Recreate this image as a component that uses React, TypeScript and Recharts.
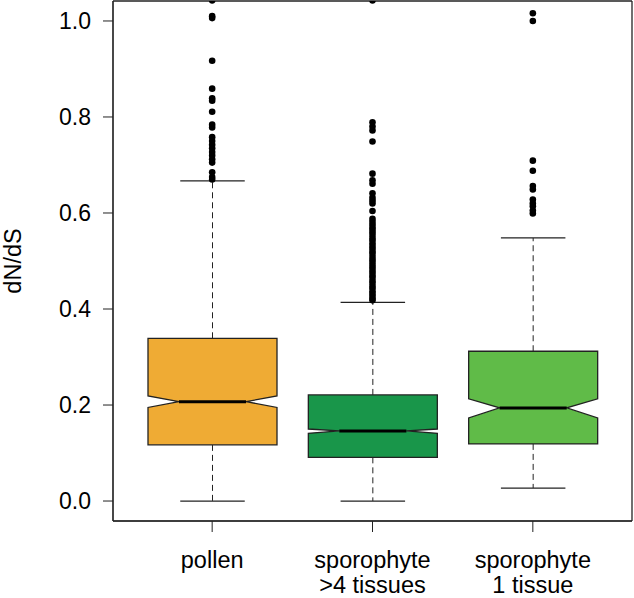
import React from "react";
import { ComposedChart, Bar, Scatter, XAxis, YAxis, CartesianGrid } from "recharts";

const categories = ["pollen", "sporophyte\n>4 tissues", "sporophyte\n1 tissue"];
const lowerWhisker = [0.0, 0.0, 0.027];
const q1 = [0.117, 0.091, 0.119];
const median = [0.207, 0.146, 0.194];
const q3 = [0.339, 0.221, 0.312];
const upperWhisker = [0.667, 0.414, 0.548];
const notchLow = [0.195, 0.141, 0.173];
const notchHigh = [0.219, 0.15, 0.213];

const pollenOutliers = [
    1.043, 1.01, 1.006, 0.917, 0.859, 0.839, 0.834, 0.811, 0.784, 0.778, 0.758, 0.75,
    0.742, 0.735, 0.727, 0.72, 0.712, 0.705, 0.685, 0.675, 0.67,
];
const manyTissueOutliers = [
    1.043, 0.789, 0.78, 0.772, 0.749, 0.682, 0.668, 0.661, 0.641, 0.632, 0.626, 0.62,
    0.604, 0.588, 0.582, 0.576, 0.57, 0.565, 0.56, 0.554, 0.548, 0.543, 0.537, 0.531,
    0.526, 0.52, 0.515, 0.509, 0.503, 0.498, 0.492, 0.487, 0.481, 0.476, 0.47, 0.465,
    0.459, 0.454, 0.448, 0.443, 0.437, 0.432, 0.427, 0.422, 0.418,
];
const oneTissueOutliers = [
    1.016, 1.0, 0.709, 0.688, 0.656, 0.649, 0.628, 0.62, 0.614, 0.605, 0.599,
];

const yTicks = [0, 0.2, 0.4, 0.6, 0.8, 1.0];
const yDomain = [-0.0416, 1.0416];
const boxColors = ["#efab34", "#19964a", "#60bb48"];

const boxData = categories.map((name, i) => ({
    name,
    lw: lowerWhisker[i],
    q1: q1[i],
    med: median[i],
    q3: q3[i],
    uw: upperWhisker[i],
    nlo: notchLow[i],
    nhi: notchHigh[i],
}));

const outlierData = [pollenOutliers, manyTissueOutliers, oneTissueOutliers].flatMap((vals, i) =>
    vals.map((value) => ({ name: categories[i], value }))
);

const FONT = "'Liberation Sans', Arial, sans-serif";
const INK = "#222";

// bar spans the whiskers; everything else is placed along the same linear scale
const NotchedBox = (props: any) => {
    const { x, y, width, height, payload, index } = props;
    const { lw, q1, med, q3, uw, nlo, nhi } = payload;
    const k = height / (uw - lw);
    const py = (v: number) => y + (uw - v) * k;
    const cx = x + width / 2;
    const hw = width / 2;
    const nw = hw * 0.52;
    const sw = hw * 0.5;
    const pts = [
        [cx - hw, py(q1)],
        [cx - hw, py(nlo)],
        [cx - nw, py(med)],
        [cx - hw, py(nhi)],
        [cx - hw, py(q3)],
        [cx + hw, py(q3)],
        [cx + hw, py(nhi)],
        [cx + nw, py(med)],
        [cx + hw, py(nlo)],
        [cx + hw, py(q1)],
    ]
        .map((p) => p.join(","))
        .join(" ");
    return (
        <g>
            <line x1={cx} x2={cx} y1={py(q3)} y2={py(uw)} stroke={INK} strokeDasharray="6 4" />
            <line x1={cx} x2={cx} y1={py(q1)} y2={py(lw)} stroke={INK} strokeDasharray="6 4" />
            <line x1={cx - sw} x2={cx + sw} y1={py(uw)} y2={py(uw)} stroke={INK} strokeWidth={1.3} />
            <line x1={cx - sw} x2={cx + sw} y1={py(lw)} y2={py(lw)} stroke={INK} strokeWidth={1.3} />
            <polygon points={pts} fill={boxColors[index]} stroke={INK} strokeWidth={1.3} />
            <line x1={cx - nw} x2={cx + nw} y1={py(med)} y2={py(med)} stroke="#000" strokeWidth={3} />
        </g>
    );
};

const Dot = (props: any) => <circle cx={props.cx} cy={props.cy} r={3.3} fill="#000" />;

const CategoryTick = (props: any) => {
    const { x, y, payload } = props;
    const lines = String(payload.value).split("\n");
    return (
        <text x={x} y={y + 34} textAnchor="middle" fontSize={23.5} fontFamily={FONT} fill="#000">
            {lines.map((l, i) => (
                <tspan key={i} x={x} dy={i === 0 ? 0 : 25}>
                    {l}
                </tspan>
            ))}
        </text>
    );
};

// frame lines along the plot-area edges
const frameX = ({ offset }: any) => [offset.left, offset.left + offset.width];
const frameY = ({ offset }: any) => [offset.top, offset.top + offset.height];

export default function App() {
    return (
        <div style={{ position: "absolute", left: 0, top: 0, width: 634, height: 598, background: "#fff" }}>
            <ComposedChart
                width={634}
                height={598}
                data={boxData}
                margin={{ top: 1, right: 2, bottom: 0, left: 0 }}
            >
                <CartesianGrid
                    stroke={INK}
                    strokeWidth={1.3}
                    verticalCoordinatesGenerator={frameX}
                    horizontalCoordinatesGenerator={frameY}
                />
                <XAxis
                    dataKey="name"
                    allowDuplicatedCategory={false}
                    height={77}
                    padding={{ left: 19, right: 19 }}
                    stroke={INK}
                    tickSize={11}
                    tickLine={{ stroke: INK }}
                    tick={<CategoryTick />}
                    interval={0}
                />
                <YAxis
                    width={113}
                    domain={yDomain}
                    allowDataOverflow
                    ticks={yTicks}
                    tickFormatter={(v: number) => v.toFixed(1)}
                    stroke={INK}
                    tickSize={10}
                    tickMargin={12}
                    tick={{ fill: "#000", fontSize: 23, fontFamily: FONT }}
                    label={{
                        content: (p: any) => {
                            const vb = p.viewBox;
                            const cy = vb.y + vb.height / 2;
                            return (
                                <text
                                    x={21}
                                    y={cy}
                                    transform={`rotate(-90 21 ${cy})`}
                                    textAnchor="middle"
                                    fontSize={23.5}
                                    fontFamily={FONT}
                                    fill="#000"
                                >
                                    dN/dS
                                </text>
                            );
                        },
                    }}
                />
                <Bar
                    dataKey={(d: any) => [d.lw, d.uw]}
                    barSize={129}
                    shape={<NotchedBox />}
                    isAnimationActive={false}
                />
                <Scatter data={outlierData} dataKey="value" shape={<Dot />} isAnimationActive={false} />
            </ComposedChart>
        </div>
    );
}
